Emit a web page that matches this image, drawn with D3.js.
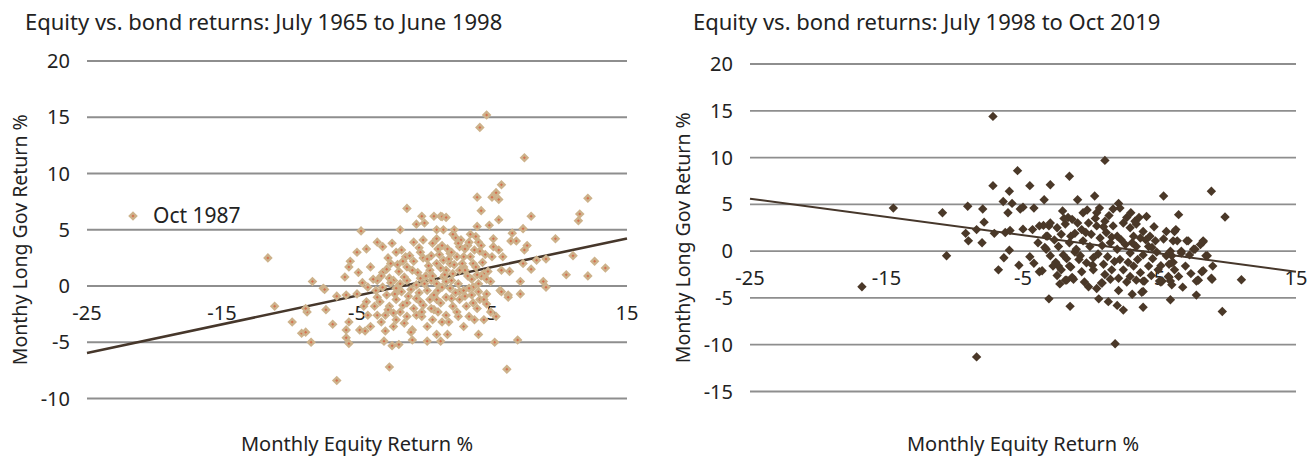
<!DOCTYPE html>
<html>
<head>
<meta charset="utf-8">
<script src="https://cdn.jsdelivr.net/npm/d3@7"></script>
<style>
    body { margin: 0; background: #fff; }
    text { font-family: "Noto Sans", sans-serif; fill: #222; }
</style>
</head>
<body>
<svg id="chart" width="1310" height="458"></svg>
<script>
// July 1965 - June 1998: [equity %, long gov %]
const early = [
    [-11.6, 2.5], [-11.1, -1.8], [-9.8, -3.2], [-9.1, -4.2], [-8.8, -4.1], [-8.4, -5.0], [-8.7, -2.3], [-8.8, -2.0],
    [-8.3, 0.4], [-7.5, -0.2], [-7.4, -0.3], [-7.3, -2.1], [-6.8, -3.4], [-6.5, -0.9], [-6.5, -8.4], [-5.9, 0.8],
    [-5.8, -0.8], [-5.6, 1.7], [-5.5, 2.2], [-5.0, 3.0], [-4.7, 4.9], [-4.3, 3.3], [-4.9, 1.2], [-5.6, -3.2],
    [-5.8, -3.9], [-5.8, -4.6], [-5.6, -5.1], [-4.8, -3.9], [-4.4, -4.0], [-4.0, -3.6], [-4.0, 1.7], [-4.2, -2.6],
    [-3.5, -2.6], [-3.5, 3.9], [-3.1, 3.5], [-3.1, 1.2], [-2.9, -2.6], [-2.9, -4.0], [-3.0, -4.9], [-2.4, -5.3],
    [-1.9, -5.2], [-2.6, -7.2], [-2.3, -3.6], [-2.4, 3.8], [-2.7, 2.5], [-2.1, 3.0], [-1.8, 5.0], [-1.7, 3.2],
    [-1.6, 2.2], [-1.3, 6.9], [-1.5, -3.3], [-0.9, -3.9], [-0.9, -4.8], [-0.8, 3.9], [-0.6, 5.5], [-0.4, 3.4],
    [-0.2, 6.2], [0.0, 5.6], [-0.1, 4.1], [-0.1, 2.5], [0.2, -4.9], [0.2, -3.6], [0.5, 2.7], [0.6, 3.8],
    [0.7, 6.2], [0.9, 5.0], [0.9, -4.3], [1.2, 6.2], [1.2, -4.9], [1.3, 3.6], [1.3, 6.15], [1.4, 5.0],
    [1.6, 6.1], [1.7, -4.3], [1.8, -3.2], [1.9, 2.0], [2.2, 5.0], [2.3, 4.3], [2.7, 4.1], [2.5, -2.7],
    [3.2, 3.6], [3.3, -2.7], [3.7, -3.0], [4.0, -4.3], [4.4, -3.0], [4.1, 14.1], [4.6, 15.2], [3.9, 7.9],
    [4.2, 6.7], [3.9, 5.3], [4.8, 5.4], [5.0, 7.9], [5.3, 8.3], [5.5, 7.7], [5.7, 9.0], [5.5, 5.9],
    [7.4, 11.4], [5.1, 4.2], [5.1, 3.5], [5.5, 3.2], [5.8, 2.6], [6.5, 4.7], [6.4, 4.0], [6.8, 4.0],
    [7.3, 5.1], [7.9, 6.2], [7.6, 3.6], [7.4, 3.2], [7.3, 2.0], [7.9, 1.5], [8.3, 2.3], [9.0, 2.4],
    [7.1, 0.4], [7.1, -0.7], [8.8, 0.4], [9.0, -0.1], [9.7, 4.2], [10.5, 1.0], [11.0, 2.7], [11.4, 5.8],
    [11.5, 6.4], [12.1, 7.8], [12.1, 0.9], [12.6, 2.2], [13.4, 1.6], [5.2, -5.0], [6.1, -7.4], [6.9, -4.8],
    [5.3, -2.7], [5.6, -0.4], [6.2, -0.8], [5.7, 1.4], [6.3, 1.3], [6.2, -1.0], [5.7, -0.5], [4.9, -2.3],
    [-2.6, 0.7], [-3.5, 0.5], [-4.2, -0.1], [-3.1, -0.1], [-2.1, -0.2], [-0.6, 0.1], [0.9, 0.2], [1.6, 0.4],
    [-1.3, 0.5], [-2.3, 0.5], [-1.9, 1.3], [-1.3, 1.7], [-0.3, 0.7], [0.4, 1.4], [0.9, 2.0], [1.4, 2.3],
    [1.6, 1.4], [5.0, 2.6], [4.1, 3.1], [3.4, 2.6], [2.6, 3.5], [1.9, 2.9], [3.6, 2.0], [2.9, 1.7],
    [2.1, 1.1], [1.4, 0.8], [4.4, 1.1], [4.9, 0.4], [3.6, -0.1], [2.6, -0.5], [3.8, 4.4], [2.1, 4.6],
    [-5.0, -0.7], [-4.3, -1.4], [-3.7, -1.8], [-3.5, -1.0], [-2.8, -0.8], [-2.6, -1.8], [-2.1, -1.2], [-1.8, -2.3],
    [-1.3, -1.5], [-0.8, -2.0], [-0.6, -1.1], [-0.1, -1.7], [0.4, -1.2], [0.7, -2.1], [1.2, -1.5], [1.6, -1.0],
    [2.1, -1.8], [2.6, -1.2], [3.1, -1.8], [3.5, -0.8], [4.1, -1.2], [4.6, -0.7], [-1.7, -0.5], [0.2, -0.4],
    [1.9, -0.2], [2.9, -0.4], [1.0, -2.3], [-0.2, -2.7], [-1.3, -2.7], [-2.1, -3.0], [-3.2, -3.2], [2.4, -2.3],
    [-2.5, 0.3], [-1.5, 0.8], [-0.5, 1.2], [0.5, 0.5], [1.5, 1.0], [2.5, 0.2], [3.5, 0.6], [-1.0, -0.3],
    [0.0, 0.2], [1.0, -0.4], [2.0, 0.5], [3.0, 1.4], [-2.0, 1.9], [-0.8, 2.2], [0.3, 1.8], [1.8, 2.4],
    [2.8, 2.0], [3.8, 1.7], [-3.2, 0.9], [-3.6, -0.4], [-1.2, -0.9], [0.7, -0.8], [2.3, -0.6], [3.3, -0.2],
    [4.2, 0.9], [4.5, 2.8], [3.0, 3.3], [2.0, 3.0], [-0.3, 3.0], [1.1, 2.8], [-1.4, 2.6], [-2.8, 1.5],
    [4.0, 3.9], [3.4, 4.6], [2.5, 3.8], [0.9, 4.2], [4.4, -1.2], [3.9, -2.0], [-4.5, -1.8], [-0.2, -2.3],
    [1.3, -3.2], [-2.3, -2.4], [0.6, -3.0], [2.9, -3.6], [-1.0, -4.1], [4.7, 1.3], [-1.8, 0.2], [-0.4, -0.6],
    [0.6, 0.9], [1.2, 1.6], [2.2, 1.9], [3.2, 0.9], [4.0, 0.2], [4.3, 2.1], [3.7, 3.2], [2.9, 2.6],
    [1.7, 3.3], [0.2, 2.4], [-0.9, 1.4], [-2.2, -0.7], [-1.6, -1.7], [-0.3, -1.4], [0.9, -1.2], [2.0, -1.1],
    [3.0, -0.9], [4.0, -0.5], [4.6, 0.6], [3.9, 1.0], [2.6, 1.4], [1.3, -0.1], [0.1, 0.9], [-1.1, 2.7],
    [-2.5, 2.0], [-3.8, 0.6], [-4.6, 0.3], [-3.3, -1.4], [-2.7, -2.1], [-0.6, -2.6], [0.5, -2.0], [1.6, -2.6],
    [3.6, -1.5], [4.6, -1.6], [4.2, 3.6], [3.3, 3.9], [2.4, 2.6], [1.0, 3.3]
];

// July 1998 - Oct 2019: [equity %, long gov %]
const late = [
    [-16.8, -3.8], [-14.5, 4.6], [-10.9, 4.1], [-10.6, -0.5], [-9.05, 4.8], [-9.2, 1.9], [-9.0, 1.1], [-8.4, 2.3],
    [-8.4, -11.3], [-7.95, 4.5], [-7.85, 3.1], [-8.0, 0.9], [-7.2, 14.4], [-7.2, 7.0], [-7.1, 1.9], [-6.8, -2.0],
    [-6.4, -0.7], [-6.0, 0.1], [-6.3, 2.0], [-5.95, 2.2], [-6.45, 5.3], [-6.0, 6.4], [-6.1, 4.1], [-5.8, 5.1],
    [-5.4, 8.6], [-5.2, 4.5], [-5.0, 4.7], [-5.0, 2.35], [-5.3, -1.5], [-4.5, 7.0], [-4.2, 4.6], [-3.8, -2.2],
    [-3.8, 2.7], [-3.45, 5.5], [-3.1, 2.7], [-3.2, 1.6], [-3.3, 0.2], [-3.0, -0.5], [-3.1, -5.1], [-3.0, 7.1],
    [-2.6, -1.2], [-2.4, -1.6], [-2.1, 4.3], [-1.9, -3.1], [-1.6, 8.0], [-1.55, -5.9], [-1.7, 3.6], [-1.5, 1.6],
    [-1.5, -1.7], [-1.4, -2.8], [-1.0, 5.5], [-1.2, -0.1], [-0.6, 4.1], [-0.8, -0.5], [0.25, 5.9], [0.4, 4.1],
    [0.6, 4.6], [0.55, -5.1], [0.8, -3.4], [1.0, 9.7], [1.25, -5.4], [1.75, -9.9], [1.9, -5.8], [2.35, -6.3],
    [2.0, 5.1], [3.2, 3.2], [4.05, 3.7], [3.8, -6.0], [3.7, -4.4], [5.3, 5.9], [5.3, 1.3], [5.1, -1.55],
    [5.1, -3.3], [5.8, -5.2], [6.4, 3.9], [6.2, 2.3], [6.0, 1.1], [6.0, -1.2], [6.7, -3.85], [7.1, 1.1],
    [7.5, 0.2], [7.7, -4.7], [7.8, -3.1], [8.1, -2.2], [8.2, 1.0], [8.0, 0.7], [8.4, -0.5], [8.8, 6.4],
    [8.85, -3.0], [8.9, -1.6], [9.6, -6.45], [9.8, 3.65], [11.0, -3.05], [5.7, -2.8], [5.7, -1.4], [4.8, -0.1],
    [4.7, 1.1], [4.45, 0.4], [6.6, 0.0], [5.9, -0.5], [3.8, -4.3], [-1.8, -3.1], [3.3, -3.1], [3.9, -3.2],
    [5.2, -3.2], [5.8, -3.2], [7.85, -3.1], [2.1, 4.6], [-3.5, 2.75], [-3.0, 3.0], [-2.5, 2.5], [-1.9, 2.9],
    [-1.4, 3.4], [-0.7, 2.3], [-0.2, 3.0], [0.4, 2.7], [1.0, 3.2], [1.6, 2.7], [2.35, 3.0], [2.85, 2.5],
    [3.3, 2.9], [3.8, 2.1], [4.3, 1.6], [6.1, 2.1], [6.3, 1.1], [7.0, 1.1], [7.6, 0.2], [8.2, 1.1],
    [8.5, -0.5], [8.8, -2.9], [8.2, -2.1], [7.7, -3.2], [6.1, -2.0], [5.9, -1.25], [5.5, -0.5], [5.8, 0.0],
    [6.6, -0.2], [5.0, -3.2], [5.65, -2.7], [5.9, -3.6], [-3.3, 1.6], [-3.4, 0.4], [-2.8, -1.6], [-3.6, -2.1],
    [-2.2, -2.0], [-1.3, -3.0], [-1.6, -1.6], [-2.05, -0.4], [-2.4, 0.5], [-1.6, 0.9], [-1.1, 0.2], [-0.6, 1.1],
    [-0.1, 0.5], [0.15, -0.7], [-0.35, -1.25], [0.15, -2.0], [0.75, -3.4], [0.9, -1.4], [0.65, 1.4], [1.4, 0.9],
    [1.9, 0.2], [2.5, 0.7], [2.85, -0.2], [3.3, 0.5], [3.8, -0.4], [4.2, 0.5], [2.1, -0.9], [1.5, -2.0],
    [2.35, -2.0], [3.1, -1.6], [3.6, -2.3], [4.2, -1.6], [3.8, -3.2], [2.85, -2.7], [2.0, -2.9], [1.4, -3.0],
    [0.0, 1.8], [1.1, 2.0], [1.9, 1.6], [3.1, 1.6], [3.6, 1.4], [-2.7, 1.2], [-2.2, 1.8], [-1.2, 1.9],
    [-0.4, 2.0], [0.3, 3.5], [1.3, 3.8], [2.6, 3.6], [3.5, 3.6], [-1.8, -0.8], [-0.9, -0.9], [0.5, -0.3],
    [1.2, -0.6], [2.7, -1.2], [3.4, -0.9], [4.5, -0.8], [4.0, 1.2], [3.0, 0.9], [2.2, 1.2], [1.5, 1.5],
    [0.8, 0.6], [0.1, -1.5], [-0.7, -2.2], [-2.5, -2.6], [-0.5, -3.3], [1.0, -2.5], [2.6, -3.3], [4.4, -2.6],
    [4.9, -2.0], [-3.9, 0.9], [-4.3, 2.3], [-2.0, 3.5], [-0.3, 4.4], [1.6, 4.5], [2.9, 4.1], [4.6, 2.6],
    [5.5, 2.1], [7.2, -0.4], [6.9, -1.6], [6.4, -2.7], [7.3, -2.4], [-4.5, -0.6], [-4.2, -1.3], [-2.3, -3.5],
    [0.4, -4.0], [2.0, -4.2], [3.0, -4.6], [-0.2, -3.8], [1.7, -1.1], [0.9, 2.6], [-1.0, 3.0]
];

// linear trend values at x = -25 and x = 15
const trendX = [-25, 15];
const earlyTrend = [-5.95, 4.23];
const lateTrend = [5.6, -2.2];

const xTicks = [-25, -15, -5, 5, 15];
const earlyYTicks = [-10, -5, 0, 5, 10, 15, 20];
const lateYTicks = [-15, -10, -5, 0, 5, 10, 15, 20];

const titles = ['Equity vs. bond returns: July 1965 to June 1998', 'Equity vs. bond returns: July 1998 to Oct 2019'];

let svg = d3.select('#chart');

drawPanel({
    left: 87, right: 627, top: 61, bottom: 398.5, yDomain: [-10, 20], yTicks: earlyYTicks,
    title: titles[0], titleX: 25, yTitleX: 20, data: early, trend: earlyTrend, style: 'early'
});
drawPanel({
    left: 750, right: 1296, top: 64, bottom: 391.5, yDomain: [-15, 20], yTicks: lateYTicks,
    title: titles[1], titleX: 693, yTitleX: 683, data: late, trend: lateTrend, style: 'late'
});
drawLegend();

function diamond(r) {
    return `M0,${-r}L${r},0L0,${r}L${-r},0Z`;
}

function drawPanel(cfg) {
    let g = svg.append('g');
    let x = d3.scaleLinear().domain([-25, 15]).range([cfg.left, cfg.right]);
    let y = d3.scaleLinear().domain(cfg.yDomain).range([cfg.bottom, cfg.top]);

    g.append('text')
        .attr('x', cfg.titleX)
        .attr('y', 30)
        .style('font-size', '22px')
        .text(cfg.title);

    // horizontal gridlines
    g.selectAll('.grid')
        .data(cfg.yTicks)
        .enter()
        .append('line')
        .attr('x1', cfg.left)
        .attr('x2', cfg.right)
        .attr('y1', d => y(d))
        .attr('y2', d => y(d))
        .attr('stroke', '#8e8e8e')
        .attr('stroke-width', 1.8);

    g.selectAll('.ylab')
        .data(cfg.yTicks)
        .enter()
        .append('text')
        .attr('x', cfg.left - 17)
        .attr('y', d => y(d))
        .attr('dy', '0.35em')
        .attr('text-anchor', 'end')
        .style('font-size', '20px')
        .text(d => d);

    g.selectAll('.xlab')
        .data(xTicks)
        .enter()
        .append('text')
        .attr('x', d => x(d))
        .attr('y', y(0) + 27)
        .attr('dy', '0.35em')
        .attr('text-anchor', 'middle')
        .style('font-size', '20px')
        .text(d => d);

    g.append('text')
        .attr('transform', `translate(${cfg.yTitleX},${(cfg.top + cfg.bottom) / 2 + 10}) rotate(-90)`)
        .attr('text-anchor', 'middle')
        .attr('dy', '0.35em')
        .style('font-size', '19.5px')
        .text('Monthy Long Gov Return %');

    g.append('text')
        .attr('x', (cfg.left + cfg.right) / 2)
        .attr('y', 444)
        .attr('dy', '0.35em')
        .attr('text-anchor', 'middle')
        .style('font-size', '20px')
        .text('Monthly Equity Return %');

    g.append('line')
        .attr('x1', x(trendX[0]))
        .attr('x2', x(trendX[1]))
        .attr('y1', y(cfg.trend[0]))
        .attr('y2', y(cfg.trend[1]))
        .attr('stroke', '#46372b')
        .attr('stroke-width', cfg.style === 'early' ? 2.6 : 2);

    let pts = g.selectAll('.pt')
        .data(cfg.data)
        .enter()
        .append('g')
        .attr('transform', d => `translate(${x(d[0])},${y(d[1])})`);

    if (cfg.style === 'early') {
        pts.append('path').attr('d', diamond(4.8)).attr('fill', '#cdb28b');
        pts.append('path').attr('d', diamond(1.5)).attr('fill', '#d4714f');
    } else {
        pts.append('path').attr('d', diamond(4.7)).attr('fill', '#4a3828');
    }
}

function drawLegend() {
    let g = svg.append('g').attr('transform', 'translate(133,216)');
    g.append('path').attr('d', diamond(4.8)).attr('fill', '#cdb28b');
    g.append('path').attr('d', diamond(1.5)).attr('fill', '#d4714f');
    g.append('text')
        .attr('x', 20)
        .attr('dy', '0.35em')
        .style('font-size', '21px')
        .text('Oct 1987');
}
</script>
</body>
</html>
